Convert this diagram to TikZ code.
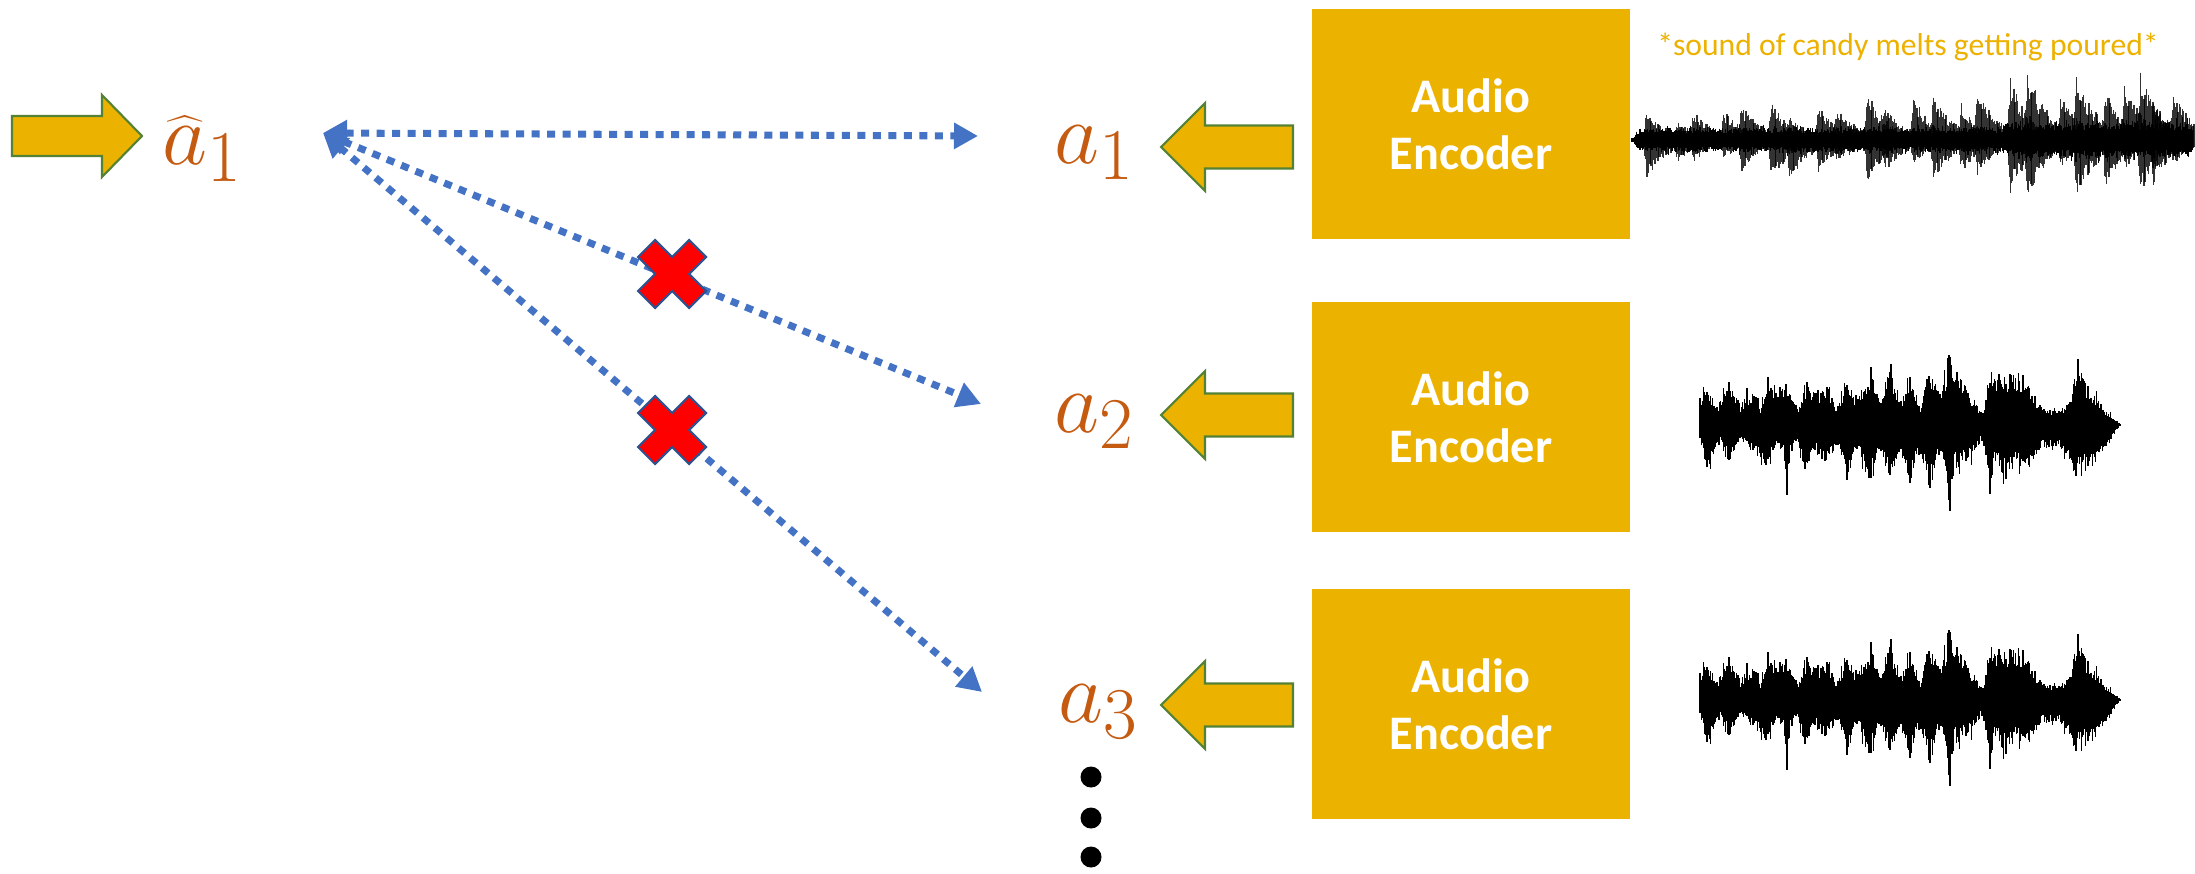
\documentclass[tikz,border=0pt]{standalone}
\usepackage{fontspec}
\newfontfamily\carlito{Carlito}
\usetikzlibrary{arrows.meta}
\definecolor{gold}{RGB}{236,178,0}
\definecolor{capgold}{RGB}{237,177,0}
\definecolor{rust}{RGB}{197,90,17}
\definecolor{agreen}{RGB}{84,130,53}
\definecolor{cblue}{RGB}{68,114,196}
\definecolor{xblue}{RGB}{47,82,143}
% waveform core band: x0, x1, core0, core1, spike0, spike1, centre y
\newcommand\wseg[7]{%
  \pgfmathsetmacro\wn{int(round((#2-#1)/1.2))}%
  \foreach \k in {0,...,\wn}{%
    \pgfmathsetmacro\wx{#1+1.2*\k}%
    \pgfmathsetmacro\wt{\k/\wn}%
    \pgfmathsetmacro\wc{#3+(#4-#3)*\wt}%
    \pgfmathsetmacro\ws{#5+(#6-#5)*\wt}%
    \pgfmathsetmacro\wa{\wc*(0.55+0.45*rnd)+(\ws-\wc)*rnd^5}%
    \pgfmathsetmacro\wb{\wc*(0.55+0.45*rnd)+(\ws-\wc)*rnd^5}%
    \draw[wavecol] (\wx,#7-\wa) -- (\wx,#7+\wb);
  }}
% decaying burst: x, top amplitude, bottom amplitude, width, centre y
\newcommand\wburst[5]{%
  \foreach \k in {0,...,28}{%
    \pgfmathsetmacro\wx{#1+#4*\k/28}%
    \pgfmathsetmacro\we{1.15*min(1,(\k+1)/4)*exp(-1.5*max(0,\k/28-0.1))}%
    \pgfmathsetmacro\wa{#2*\we*(0.6+0.4*rnd)}%
    \pgfmathsetmacro\wb{#3*\we*(0.6+0.4*rnd)}%
    \draw[wavecol, opacity=0.8] (\wx,#5-\wa) -- (\wx,#5+\wb);
  }}
% half waveform along a piecewise linear envelope: list macro of x/amp, centre y, direction (-1 up, 1 down)
\newcommand\whalf[3]{%
  \foreach \x/\a [remember=\x as \px (initially -1), remember=\a as \pa (initially 0)] in #1 {%
    \ifdim\px pt>0pt
      \pgfmathsetmacro\wn{int(max(1,round((\x-\px)/1.1)))}%
      \foreach \k in {1,...,\wn}{%
        \pgfmathsetmacro\wx{\px+(\x-\px)*\k/\wn}%
        \pgfmathsetmacro\we{\pa+(\a-\pa)*\k/\wn}%
        \pgfmathsetmacro\wa{\we*(0.6+0.4*rnd)+\we*0.3*rnd^10}%
        \draw[wavecol] (\wx,#2) -- (\wx,#2+#3*\wa);
      }%
    \fi
  }}
\newcommand\wtoplist{1699/0, 1700/28, 1707/43, 1717/18, 1728/42, 1740/22, 1748/32, 1757/38, 1760/18,
  1768/50, 1777/35, 1787/48, 1797/17, 1808/48, 1817/28, 1827/42, 1837/18, 1847/48, 1857/28,
  1869/40, 1872/68, 1875/40, 1880/20, 1890/60, 1900/25, 1910/52, 1920/20, 1928/65, 1940/35,
  1946/50, 1950/80, 1954/50, 1957/55, 1970/32, 1983/12, 1990/58, 2010/52, 2023/48, 2040/22,
  2050/15, 2067/18, 2077/60, 2090/38, 2103/18, 2118/3, 2121/0}
\newcommand\wbotlist{1699/0, 1700/18, 1707/47, 1720/18, 1728/38, 1740/15, 1755/30, 1768/42, 1778/22,
  1784/30, 1787/72, 1790/30, 1797/18, 1805/52, 1815/25, 1825/45, 1837/18, 1847/52, 1858/25,
  1870/57, 1880/25, 1890/58, 1900/25, 1910/62, 1920/25, 1930/68, 1940/30, 1946/45, 1950/88,
  1954/45, 1967/38, 1983/15, 1987/40, 1990/83, 1993/40, 2007/52, 2015/35, 2023/48, 2040/25,
  2057/22, 2077/52, 2090/45, 2107/22, 2118/3, 2121/0}
\begin{document}
\begin{tikzpicture}[x=0.01cm,y=-0.01cm,
  encoder/.style={fill=gold, minimum width=3.18cm, minimum height=2.29cm, inner sep=0pt,
    text=white, font=\carlito\bfseries\fontsize{13.7}{16.2}\selectfont, align=center},
  lab/.style={text=rust, font=\fontsize{24.88}{30}\selectfont, inner sep=0pt, anchor=base},
  blockarrow/.style={fill=gold, draw=agreen, line width=0.6pt, line join=miter},
  conn/.style={draw=cblue, line width=2pt, dash pattern=on 0.08cm off 0.075cm,
    arrows={Triangle[length=0.24cm,width=0.25cm]-Triangle[length=0.24cm,width=0.25cm]}},
  xmark/.style={fill=red, draw=xblue, line width=0.6pt, line join=miter},
  wavecol/.style={draw=black, line width=0.013cm},
  dotn/.style={circle, fill=black, minimum size=0.21cm, inner sep=0pt}]
\fill[white] (0,0) rectangle (2195,873);
\useasboundingbox (0,0) rectangle (2195,873);

% input arrow and predicted embedding
\draw[blockarrow] (12,116) -- (102,116) -- (102,95) -- (142,136) -- (102,177) -- (102,156) -- (12,156) -- cycle;
\node[lab] (ahat) at (203,165) {$\widehat{a}_1$};

% encoders
\node[encoder] (enc1) at (1471,124) {Audio\\Encoder};
\node[encoder] (enc2) at (1471,417) {Audio\\Encoder};
\node[encoder] (enc3) at (1471,704) {Audio\\Encoder};

% embeddings
\node[lab] (a1) at (1095,163) {$a_1$};
\node[lab] (a2) at (1095,432) {$a_2$};
\node[lab] (a3) at (1099,722) {$a_3$};

% block arrows from encoders to embeddings
\foreach \cy in {147,415,705}{
  \draw[blockarrow] (1293,\cy-21.5) -- (1205,\cy-21.5) -- (1205,\cy-44) -- (1161,\cy)
    -- (1205,\cy+44) -- (1205,\cy+21.5) -- (1293,\cy+21.5) -- cycle;
}

% ellipsis dots
\node[dotn] (d1) at (1091,777) {};
\node[dotn] (d2) at (1091,818) {};
\node[dotn] (d3) at (1091,857) {};

% caption
\node[text=capgold, font=\carlito\fontsize{9}{11}\selectfont, anchor=base, inner sep=0pt]
  (cap) at (1908,56) {*sound of candy melts getting poured*};

% dotted connectors
\coordinate (hub) at (323,133);
\coordinate (t1) at (978,136);
\coordinate (t2) at (981,404);
\coordinate (t3) at (982,692);
\draw[conn] (hub) -- (t1);
\draw[conn] (hub) -- (t2);
\draw[conn] (hub) -- (t3);

% crosses
\coordinate (x1) at (672,274);
\coordinate (x2) at (672,430);
\foreach \c in {x1,x2}{
  \draw[xmark, shift={(\c)}] (-34,-17) -- (-17,-34) -- (0,-17) -- (17,-34) -- (34,-17) -- (17,0)
    -- (34,17) -- (17,34) -- (0,17) -- (-17,34) -- (-34,17) -- (-17,0) -- cycle;
}

% waveform 1
\pgfmathsetseed{11}
\wseg{1632}{1640}{2}{12}{3}{15}{140}
\wseg{1640}{2004}{12}{12}{16}{16}{140}
\wseg{2004}{2192}{17}{17}{23}{23}{140}
\foreach \bx/\bt/\bb in {1643/27/37,1674/17/20,1690/27/20,1720/28/17,1738/32/30,1768/33/38,
  1786/22/38,1815/30/30,1833/28/20,1846/18/14,1864/43/38,1881/30/30,1910/38/23,1930/42/38,
  1958/33/30,1974/47/33,2007/55/48,2024/65/53,2057/42/27,2073/62/55,2102/47/42,2121/52/27,
  2137/63/48,2150/37/40,2170/43/23}{
  \wburst{\bx}{\bt}{\bb}{32}{140}
}

% waveforms 2 and 3 (same signal)
\foreach \wy in {425,700}{
  \pgfmathsetseed{7}
  \whalf{\wtoplist}{\wy}{-1}
  \whalf{\wbotlist}{\wy}{1}
}
\end{tikzpicture}
\end{document}
